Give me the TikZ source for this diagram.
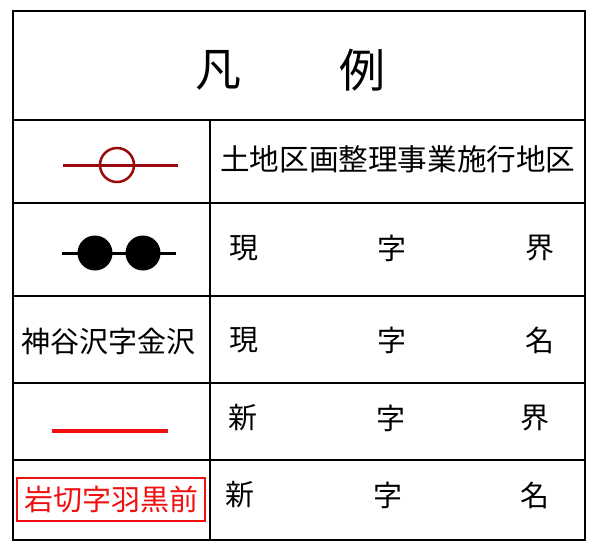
\documentclass[tikz,border=0pt]{standalone}
\usepackage{fontspec}
\setmainfont{Noto Sans CJK JP}
\definecolor{dred}{HTML}{9A0A0A}
\definecolor{bred}{HTML}{F01010}
\begin{document}
\begin{tikzpicture}[x=1pt,y=-1pt,
  grid/.style={draw=black,line width=2pt},
  cell/.style={inner sep=0pt,font=\fontsize{29}{30}\selectfont},
  wide/.style={inner sep=0pt,font=\fontsize{29.6}{30}\selectfont},
  big/.style={inner sep=0pt,font=\fontsize{46}{48}\selectfont}]
\useasboundingbox[fill=white] (0,0) rectangle (593,542);
% table frame
\draw[grid] (13,11) rectangle (585,540);
\foreach \yy in {120,203,296,383,460} \draw[grid] (13,\yy) -- (585,\yy);
\draw[grid] (210,120) -- (210,540);
% title
\node[big] (t1) at (218,70) {凡};
\node[big] (t2) at (362,70) {例};
% row 1
\draw[dred,line width=3pt] (63,165) -- (178,165);
\draw[dred,line width=2.5pt] (117,165) circle (17);
\node[wide,anchor=west] (r1) at (220,159) {土地区画整理事業施行地区};
% row 2
\draw[black,line width=3pt] (62,253) -- (176,253);
\fill[black] (95,253) circle (17.5) (143,253) circle (17.5);
\node[cell] (r2a) at (244,248) {現};
\node[cell] (r2b) at (392,248) {字};
\node[cell] (r2c) at (540,248) {界};
% row 3
\node[cell] (l3) at (108,341) {神谷沢字金沢};
\node[cell] (r3a) at (244,340) {現};
\node[cell] (r3b) at (392,340) {字};
\node[cell] (r3c) at (540,340) {名};
% row 4
\draw[bred,line width=4pt] (52,431) -- (168,431);
\node[cell] (r4a) at (243,418) {新};
\node[cell] (r4b) at (391,418) {字};
\node[cell] (r4c) at (535,418) {界};
% row 5
\node[cell,text=bred,draw=bred,line width=1.2pt,minimum width=188pt,minimum height=43pt] (l5) at (111,499.5) {岩切字羽黒前};
\node[cell] (r5a) at (240,495) {新};
\node[cell] (r5b) at (388,495) {字};
\node[cell] (r5c) at (535,495) {名};
\end{tikzpicture}
\end{document}
